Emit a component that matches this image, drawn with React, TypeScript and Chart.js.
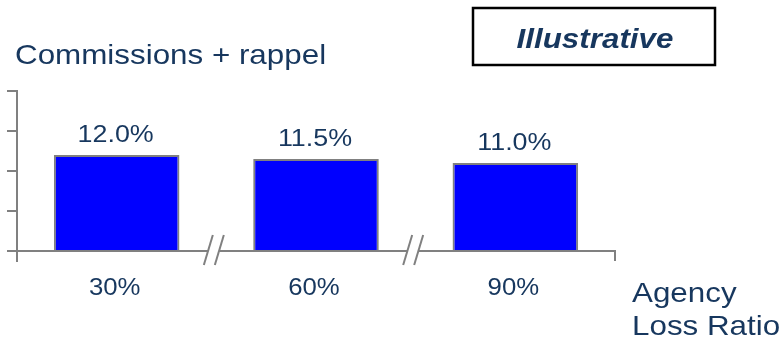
import React, { useEffect, useRef } from "react";
import { Chart, registerables } from "chart.js";

Chart.register(...registerables);

const categories = ["30%", "60%", "90%"];
const values = [12.0, 11.5, 11.0];
const valueLabels = ["12.0%", "11.5%", "11.0%"];
const yTicks = [0, 5, 10, 15, 20];
const chartTitle = "Commissions + rappel";
const xAxisTitle = ["Agency", "Loss Ratio"];
const stampText = "Illustrative";

const TEXT = "#17375E";
const GREY = "#808080";
const FAMILY = '"Liberation Sans", Arial, sans-serif';
const SX = 1.12;

function drawText(
  ctx: CanvasRenderingContext2D,
  s: string,
  x: number,
  y: number,
  font: string,
  align: "left" | "center"
) {
  ctx.save();
  ctx.font = font;
  ctx.fillStyle = TEXT;
  const w = ctx.measureText(s).width * SX;
  const left = align === "center" ? x - w / 2 : x;
  ctx.translate(left, y);
  ctx.scale(SX, 1);
  ctx.textAlign = "left";
  ctx.textBaseline = "alphabetic";
  ctx.fillText(s, 0, 0);
  ctx.restore();
}

const decorPlugin = {
  id: "decor",
  afterDatasetsDraw(chart: any) {
    const ctx: CanvasRenderingContext2D = chart.ctx;
    const xs = chart.scales.x;
    const ys = chart.scales.y;
    const area = chart.chartArea;
    const y0 = ys.getPixelForValue(0);
    const axX = area.left;

    ctx.save();
    ctx.strokeStyle = GREY;
    ctx.lineWidth = 2;
    ctx.lineCap = "butt";

    // y axis
    ctx.beginPath();
    ctx.moveTo(axX, ys.getPixelForValue(yTicks[yTicks.length - 1]) - 1);
    ctx.lineTo(axX, y0 + 11);
    ctx.stroke();
    yTicks.forEach((t) => {
      const py = ys.getPixelForValue(t);
      ctx.beginPath();
      ctx.moveTo(axX - 10, py);
      ctx.lineTo(axX, py);
      ctx.stroke();
    });

    // breaks
    const breaks: number[] = [];
    for (let i = 0; i < categories.length - 1; i++) {
      breaks.push((xs.getPixelForValue(i) + xs.getPixelForValue(i + 1)) / 2 - 2.5);
    }
    // x axis segments
    let start = axX;
    breaks.forEach((c) => {
      ctx.beginPath();
      ctx.moveTo(start, y0);
      ctx.lineTo(c - 5.5, y0);
      ctx.stroke();
      start = c + 5.5;
    });
    ctx.beginPath();
    ctx.moveTo(start, y0);
    ctx.lineTo(area.right, y0);
    ctx.stroke();
    // right end tick
    ctx.beginPath();
    ctx.moveTo(area.right, y0 - 1);
    ctx.lineTo(area.right, y0 + 10);
    ctx.stroke();
    // slashes
    breaks.forEach((c) => {
      [-5.5, 5.5].forEach((d) => {
        ctx.beginPath();
        ctx.moveTo(c + d - 4.5, y0 + 14);
        ctx.lineTo(c + d + 4.5, y0 - 16);
        ctx.stroke();
      });
    });
    ctx.restore();

    // value labels
    const meta = chart.getDatasetMeta(0);
    meta.data.forEach((bar: any, i: number) => {
      drawText(ctx, valueLabels[i], bar.x - 1, bar.y - 13, `24px ${FAMILY}`, "center");
    });
    // category labels
    categories.forEach((c, i) => {
      drawText(ctx, c, xs.getPixelForValue(i) - 2, y0 + 44, `23px ${FAMILY}`, "center");
    });

    // title
    drawText(ctx, chartTitle, 15, 64, `28px ${FAMILY}`, "left");
    // x axis title
    drawText(ctx, xAxisTitle[0], 632, 302, `28px ${FAMILY}`, "left");
    drawText(ctx, xAxisTitle[1], 632, 335, `28px ${FAMILY}`, "left");

    // illustrative stamp
    ctx.save();
    ctx.strokeStyle = "#000000";
    ctx.lineWidth = 2.5;
    ctx.strokeRect(473, 8, 242, 57);
    ctx.restore();
    drawText(ctx, stampText, 595, 48, `italic bold 28px ${FAMILY}`, "center");
  },
};

export default function App() {
  const ref = useRef<HTMLCanvasElement | null>(null);

  useEffect(() => {
    document.body.style.margin = "0";
    const canvas = ref.current;
    if (!canvas) return;
    const chart = new Chart(canvas, {
      type: "bar",
      data: {
        labels: categories,
        datasets: [
          {
            data: values,
            backgroundColor: "#0000FF",
            borderColor: GREY,
            borderWidth: 2,
            barPercentage: 0.63,
            categoryPercentage: 1,
          },
        ],
      },
      options: {
        responsive: false,
        animation: false,
        devicePixelRatio: 1,
        layout: { padding: { left: 17, right: 165, top: 91, bottom: 93 } },
        plugins: {
          legend: { display: false },
          tooltip: { enabled: false },
          title: { display: false },
        },
        scales: {
          x: { type: "category", display: false, offset: true },
          y: { display: false, min: 0, max: 20 },
        },
      },
      plugins: [decorPlugin],
    });
    return () => chart.destroy();
  }, []);

  return (
    <div style={{ width: 780, height: 344, background: "#ffffff" }}>
      <canvas ref={ref} width={780} height={344} style={{ display: "block" }} />
    </div>
  );
}
